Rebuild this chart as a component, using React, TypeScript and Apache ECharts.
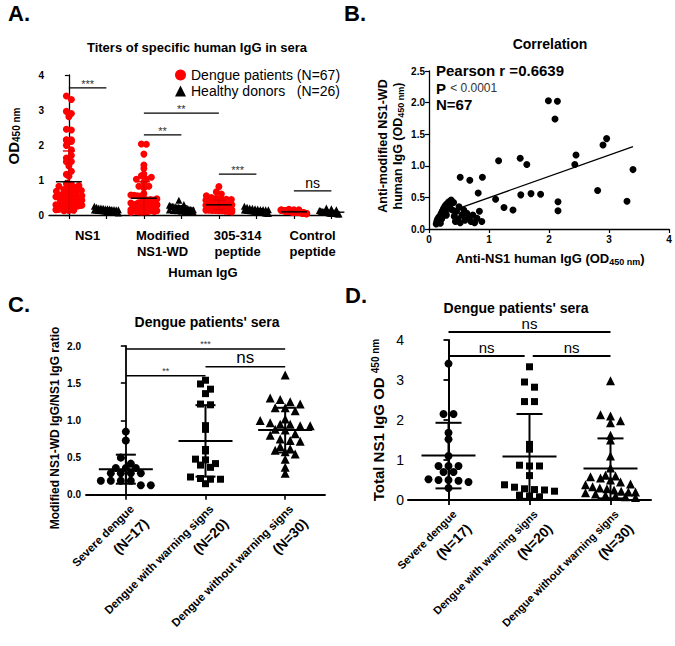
import React, { useEffect, useRef } from 'react';
import * as echarts from 'echarts';

const FONT = '"Liberation Sans", Arial, Helvetica, sans-serif';

// ---------- Panel A ----------
const A_CATEGORY_LABELS = ['NS1', 'Modified\nNS1-WD', '305-314\npeptide', 'Control\npeptide'];
const A_LABEL_POS = [0.5, 2.5, 4.5, 6.5];
const A_GROUP_POS = [0, 1, 2, 3, 4, 5, 6, 7];
const A_DENGUE_NAME = 'Dengue patients (N=67)';
const A_HEALTHY_NAME = 'Healthy donors   (N=26)';

// ---------- Panel B (paired patient values, also used in A) ----------
const B_NS1 = [
  1.99, 2.14, 2.10, 2.96, 2.90, 2.45, 2.43, 3.40, 1.52, 1.63, 1.16, 0.52, 0.68, 0.89, 0.82, 1.70, 1.86, 1.53, 1.11, 1.25, 1.40, 2.15, 2.15, 2.81, 3.30,
  0.12, 0.13, 0.14, 0.15, 0.16, 0.17, 0.18, 0.19, 0.20, 0.21, 0.22, 0.23, 0.24, 0.25, 0.26, 0.27, 0.28, 0.29, 0.30, 0.31, 0.33, 0.35, 0.37, 0.39, 0.41,
  0.42, 0.44, 0.46, 0.48, 0.50, 0.52, 0.55, 0.58, 0.60, 0.63, 0.66, 0.70, 0.73, 0.76, 0.80, 0.84, 0.88,
];
const B_WD = [
  2.03, 2.02, 1.74, 1.43, 1.33, 1.17, 1.02, 0.94, 1.12, 1.02, 1.08, 0.82, 0.77, 0.82, 0.57, 0.56, 0.55, 0.54, 0.47, 0.34, 0.30, 0.43, 0.29, 0.61, 0.44,
  0.08, 0.12, 0.15, 0.10, 0.18, 0.13, 0.20, 0.09, 0.24, 0.16, 0.28, 0.20, 0.32, 0.26, 0.35, 0.30, 0.38, 0.22, 0.40, 0.33, 0.43, 0.37, 0.46, 0.30, 0.42,
  0.20, 0.12, 0.28, 0.16, 0.35, 0.10, 0.22, 0.30, 0.14, 0.25, 0.18, 0.12, 0.22, 0.10, 0.17, 0.28, 0.12,
];
const B_FIT_SLOPE = 0.336;
const B_FIT_INTERCEPT = 0.16;

const A_PEPTIDE_DENGUE = [
  0.81, 0.66, 0.60, 0.55, 0.50, 0.48, 0.46, 0.45, 0.44, 0.42, 0.41, 0.40, 0.40, 0.39, 0.38, 0.37, 0.36, 0.36, 0.35, 0.35,
  0.34, 0.33, 0.33, 0.32, 0.31, 0.31, 0.30, 0.30, 0.29, 0.29, 0.28, 0.28, 0.27, 0.27, 0.26, 0.26, 0.25, 0.25, 0.24, 0.24,
  0.23, 0.23, 0.22, 0.22, 0.21, 0.21, 0.20, 0.20, 0.19, 0.19, 0.18, 0.18, 0.17, 0.17, 0.16, 0.16, 0.15, 0.15, 0.14, 0.14,
  0.13, 0.13, 0.12, 0.12, 0.11, 0.10, 0.09,
];
const A_CONTROL_DENGUE = [
  0.16, 0.15, 0.15, 0.14, 0.14, 0.14, 0.13, 0.13, 0.13, 0.13, 0.12, 0.12, 0.12, 0.12, 0.12, 0.11, 0.11, 0.11, 0.11, 0.11,
  0.11, 0.10, 0.10, 0.10, 0.10, 0.10, 0.10, 0.10, 0.10, 0.09, 0.09, 0.09, 0.09, 0.09, 0.09, 0.09, 0.09, 0.09, 0.08, 0.08,
  0.08, 0.08, 0.08, 0.08, 0.08, 0.08, 0.07, 0.07, 0.07, 0.07, 0.07, 0.07, 0.07, 0.06, 0.06, 0.06, 0.06, 0.06, 0.06, 0.05,
  0.05, 0.05, 0.05, 0.05, 0.04, 0.04, 0.04,
];
const A_HEALTHY_NS1 = [0.25, 0.22, 0.2, 0.2, 0.19, 0.18, 0.18, 0.17, 0.16, 0.16, 0.15, 0.15, 0.14, 0.14, 0.13, 0.13, 0.12, 0.12, 0.11, 0.1, 0.1, 0.09, 0.08, 0.08, 0.07, 0.06];
const A_HEALTHY_WD = [0.42, 0.3, 0.28, 0.26, 0.25, 0.24, 0.23, 0.22, 0.22, 0.21, 0.2, 0.2, 0.19, 0.18, 0.18, 0.17, 0.16, 0.15, 0.15, 0.14, 0.13, 0.12, 0.11, 0.1, 0.09, 0.08];
const A_HEALTHY_PEPTIDE = [0.25, 0.22, 0.2, 0.19, 0.18, 0.17, 0.16, 0.16, 0.15, 0.15, 0.14, 0.14, 0.13, 0.13, 0.12, 0.12, 0.11, 0.11, 0.1, 0.1, 0.09, 0.08, 0.07, 0.06, 0.05, 0.04];
const A_HEALTHY_CONTROL = [0.2, 0.18, 0.15, 0.13, 0.12, 0.1, 0.1, 0.09, 0.08, 0.08, 0.07, 0.07, 0.06, 0.06, 0.05, 0.05, 0.05, 0.04, 0.04, 0.04, 0.03, 0.03, 0.03, 0.02, 0.02, 0.01];
const A_MEAN = [0.95, 0.15, 0.48, 0.19, 0.29, 0.13, 0.09, 0.08];
const A_SD = [0.88, 0.05, 0.47, 0.07, 0.13, 0.05, 0.03, 0.05];
const A_SIG: [number, number, number, string][] = [
  [0, 1, 3.63, '***'],
  [2, 4, 2.91, '**'],
  [2, 3, 2.29, '**'],
  [4, 5, 1.17, '***'],
  [6, 7, 0.69, 'ns'],
];

// ---------- Panels C and D ----------
const GROUP_NAMES = ['Severe dengue', 'Dengue with warning signs', 'Dengue without warning signs'];
const GROUP_N = ['(N=17)', '(N=20)', '(N=30)'];
const GROUP_POS = [0, 1, 2];

const C_SEVERE = [0.85, 0.73, 0.50, 0.42, 0.36, 0.36, 0.36, 0.29, 0.29, 0.29, 0.29, 0.19, 0.19, 0.19, 0.19, 0.13, 0.13];
const C_WARNING = [1.54, 1.49, 1.42, 1.36, 1.22, 1.21, 0.93, 0.88, 0.61, 0.59, 0.48, 0.47, 0.42, 0.40, 0.37, 0.24, 0.22, 0.21, 0.21, 0.15];
const C_WITHOUT = [1.61, 1.30, 1.28, 1.25, 1.22, 1.17, 1.17, 1.13, 1.02, 1.00, 0.97, 0.95, 0.95, 0.93, 0.93, 0.88, 0.87, 0.82, 0.80, 0.75, 0.73, 0.72, 0.65, 0.62, 0.60, 0.58, 0.55, 0.48, 0.37, 0.29];
const C_MEAN = [0.345, 0.725, 0.87];
const C_SD = [0.195, 0.48, 0.30];
const C_SIG: [number, number, number, string][] = [
  [0, 2, 1.96, '***'],
  [1, 2, 1.72, 'ns'],
  [0, 1, 1.6, '**'],
];

const D_SEVERE = [3.41, 2.15, 2.15, 1.68, 1.52, 1.1, 0.85, 0.85, 0.85, 0.7, 0.7, 0.52, 0.5, 0.5, 0.48, 0.45, 0.3];
const D_WARNING = [3.33, 2.95, 2.82, 2.46, 2.46, 1.39, 1.27, 0.87, 0.85, 0.85, 0.61, 0.38, 0.32, 0.28, 0.26, 0.25, 0.22, 0.12, 0.10, 0.08];
const D_WITHOUT = [2.98, 2.13, 2.1, 1.98, 1.93, 1.62, 1.5, 1.1, 0.8, 0.62, 0.6, 0.58, 0.55, 0.5, 0.45, 0.4, 0.38, 0.33, 0.3, 0.28, 0.25, 0.22, 0.2, 0.2, 0.18, 0.15, 0.12, 0.1, 0.08, 0.06];
const D_MEAN = [1.11, 1.09, 0.79];
const D_SD = [0.82, 1.06, 0.75];
const D_SIG: [number, number, number, string][] = [
  [0, 2, 4.2, 'ns'],
  [0, 0.94, 3.6, 'ns'],
  [1.04, 2, 3.6, 'ns'],
];

// ---------- layout ----------
const GA = { left: 49, top: 75, width: 291, height: 140, xMin: -0.53, xMax: 7.23, yMax: 4 };
const GB = { left: 429, top: 71, width: 240, height: 158 };
const GC = { left: 86, top: 346, width: 239, height: 159, xMin: -0.5, xMax: 2.5, yMax: 2 };
const GD = { left: 408, top: 340, width: 243, height: 162, xMin: -0.5, xMax: 2.5, yMax: 4 };

// beeswarm-style horizontal spreading of points that share a row (GraphPad scatter dot plot)
function swarm(vals: number[], center: number, pxX: number, pxY: number, rowPx: number, stepPx: number, maxHalfPx: number) {
  const bins = new Map<number, number[]>();
  vals.forEach((v) => {
    const b = Math.floor((v * pxY) / rowPx);
    if (!bins.has(b)) bins.set(b, []);
    bins.get(b)!.push(v);
  });
  const out: number[][] = [];
  bins.forEach((list) => {
    const k = list.length;
    const step = k > 1 ? Math.min(stepPx, (2 * maxHalfPx) / (k - 1)) : 0;
    list.forEach((v, j) => out.push([center + ((j - (k - 1) / 2) * step) / pxX, v]));
  });
  return out;
}

function errorSeries(axis: number, pos: number[], mean: number[], sd: number[], meanHalf: number, capHalf: number, lw: number, sdColors: string[]) {
  return {
    type: 'custom',
    xAxisIndex: axis,
    yAxisIndex: axis,
    silent: true,
    z: 5,
    data: pos.map((p, i) => [p, mean[i], sd[i]]),
    renderItem: (params: any, api: any) => {
      const x = api.value(0);
      const m = api.value(1);
      const s = api.value(2);
      const c = api.coord([x, m]);
      const t = api.coord([x, m + s]);
      const b = api.coord([x, Math.max(0, m - s)]);
      const col = sdColors[params.dataIndex];
      const st = { stroke: col, lineWidth: lw };
      return {
        type: 'group',
        children: [
          { type: 'line', shape: { x1: c[0], y1: t[1], x2: c[0], y2: b[1] }, style: st },
          { type: 'line', shape: { x1: c[0] - capHalf, y1: t[1], x2: c[0] + capHalf, y2: t[1] }, style: st },
          { type: 'line', shape: { x1: c[0] - capHalf, y1: b[1], x2: c[0] + capHalf, y2: b[1] }, style: st },
          { type: 'line', shape: { x1: c[0] - meanHalf, y1: c[1], x2: c[0] + meanHalf, y2: c[1] }, style: { stroke: '#000', lineWidth: lw } },
        ],
      };
    },
  };
}

function sigSeries(axis: number, bars: [number, number, number, string][], o: { lw: number; starSize: number; nsSize: number; starGap: number; nsGap: number }) {
  return {
    type: 'custom',
    xAxisIndex: axis,
    yAxisIndex: axis,
    silent: true,
    clip: false,
    z: 5,
    data: bars.map((b) => [b[0], b[2], b[1]]),
    renderItem: (params: any, api: any) => {
      const p1 = api.coord([api.value(0), api.value(1)]);
      const p2 = api.coord([api.value(2), api.value(1)]);
      const label = bars[params.dataIndex][3];
      const star = label !== 'ns';
      return {
        type: 'group',
        children: [
          { type: 'line', shape: { x1: p1[0], y1: p1[1], x2: p2[0], y2: p1[1] }, style: { stroke: '#000', lineWidth: o.lw } },
          {
            type: 'text',
            x: (p1[0] + p2[0]) / 2,
            y: p1[1] - (star ? o.starGap : o.nsGap),
            style: {
              text: label,
              fontSize: star ? o.starSize : o.nsSize,
              fontFamily: FONT,
              fill: star ? '#333' : '#000',
              align: 'center',
              verticalAlign: star ? 'middle' : 'bottom',
            },
          },
        ],
      };
    },
  };
}

function txt(x: number, y: number, text: string, size: number, weight: string, extra: any = {}) {
  return {
    type: 'text',
    x,
    y,
    rotation: extra.rotation || 0,
    style: {
      text,
      fontSize: size,
      fontWeight: weight,
      fontFamily: FONT,
      fill: '#000',
      align: extra.align || 'center',
      verticalAlign: 'middle',
      rich: extra.rich,
    },
  };
}

function buildOption() {
  const aPxX = GA.width / (GA.xMax - GA.xMin);
  const aPxY = GA.height / GA.yMax;
  const cPxX = GC.width / (GC.xMax - GC.xMin);
  const cPxY = GC.height / GC.yMax;
  const dPxX = GD.width / (GD.xMax - GD.xMin);
  const dPxY = GD.height / GD.yMax;

  const aGroups = [B_NS1, A_HEALTHY_NS1, B_WD, A_HEALTHY_WD, A_PEPTIDE_DENGUE, A_HEALTHY_PEPTIDE, A_CONTROL_DENGUE, A_HEALTHY_CONTROL];
  const axisLine = (w: number) => ({ show: true, lineStyle: { color: '#000', width: w } });
  const tick = (w: number, len: number) => ({ show: true, length: len, lineStyle: { color: '#000', width: w } });
  const lab = (size: number, weight: string, extra: any = {}) => ({ fontSize: size, fontWeight: weight, fontFamily: FONT, color: '#000', ...extra });

  const series: any[] = [];
  aGroups.forEach((g, i) => {
    const dengue = i % 2 === 0;
    series.push({
      type: 'scatter',
      name: dengue ? A_DENGUE_NAME : A_HEALTHY_NAME,
      xAxisIndex: 0,
      yAxisIndex: 0,
      symbol: dengue ? 'circle' : 'triangle',
      symbolSize: 7,
      itemStyle: { color: dengue ? '#ff0000' : '#000', opacity: 1 },
      data: swarm(g, A_GROUP_POS[i], aPxX, aPxY, 5, 5, dengue ? 13 : 12),
      z: 2,
    });
  });
  series.push(errorSeries(0, A_GROUP_POS, A_MEAN, A_SD, 13, 6, 1.4, A_GROUP_POS.map((i) => (i % 2 === 0 ? '#e00000' : '#000'))));
  series.push(sigSeries(0, A_SIG, { lw: 1.2, starSize: 11, nsSize: 14, starGap: 4, nsGap: 1 }));

  // B
  series.push({
    type: 'scatter',
    xAxisIndex: 1,
    yAxisIndex: 1,
    symbol: 'circle',
    symbolSize: 7,
    itemStyle: { color: '#000', opacity: 1 },
    data: B_NS1.map((x, i) => [x, B_WD[i]]),
  });
  const bMin = Math.min(...B_NS1);
  const bMax = Math.max(...B_NS1);
  series.push({
    type: 'line',
    xAxisIndex: 1,
    yAxisIndex: 1,
    symbol: 'none',
    lineStyle: { color: '#000', width: 1.3 },
    data: [
      [bMin, B_FIT_INTERCEPT + B_FIT_SLOPE * bMin],
      [bMax, B_FIT_INTERCEPT + B_FIT_SLOPE * bMax],
    ],
    z: 3,
  });

  // C
  const shapes = ['circle', 'rect', 'triangle'];
  const sizes = [8, 7, 9];
  [C_SEVERE, C_WARNING, C_WITHOUT].forEach((g, i) => {
    series.push({
      type: 'scatter',
      xAxisIndex: 2,
      yAxisIndex: 2,
      symbol: shapes[i],
      symbolSize: sizes[i],
      itemStyle: { color: '#000', opacity: 1 },
      data: swarm(g, GROUP_POS[i], cPxX, cPxY, 8, 10, 25),
    });
  });
  series.push(errorSeries(2, GROUP_POS, C_MEAN, C_SD, 27, 10, 2, ['#000', '#000', '#000']));
  series.push(sigSeries(2, C_SIG, { lw: 1.5, starSize: 9, nsSize: 17, starGap: 5, nsGap: 1 }));

  // D
  [D_SEVERE, D_WARNING, D_WITHOUT].forEach((g, i) => {
    series.push({
      type: 'scatter',
      xAxisIndex: 3,
      yAxisIndex: 3,
      symbol: shapes[i],
      symbolSize: sizes[i],
      itemStyle: { color: '#000', opacity: 1 },
      data: swarm(g, GROUP_POS[i], dPxX, dPxY, 8, 10, 25),
    });
  });
  series.push(errorSeries(3, GROUP_POS, D_MEAN, D_SD, 27, 13, 2, ['#000', '#000', '#000']));
  series.push(sigSeries(3, D_SIG, { lw: 1.8, starSize: 10, nsSize: 15, starGap: 5, nsGap: 1 }));

  const groupLabel = (a: number, b: number) => ({
    customValues: GROUP_POS,
    rotate: 45,
    margin: 6,
    verticalAlign: 'top',
    color: '#000',
    formatter: (v: number) => `{a|${GROUP_NAMES[Math.round(v)]}}\n{b|${GROUP_N[Math.round(v)]}}`,
    rich: {
      a: { fontSize: a, fontWeight: 'bold', fontFamily: FONT, color: '#000', lineHeight: 17 },
      b: { fontSize: b, fontWeight: 'bold', fontFamily: FONT, color: '#000', lineHeight: 23 },
    },
  });

  const subRich = (main: number, sub: number, down: boolean) => ({
    m: { fontSize: main, fontWeight: 'bold', fontFamily: FONT, fill: '#000', color: '#000' },
    s: { fontSize: sub, fontWeight: 'bold', fontFamily: FONT, fill: '#000', color: '#000', padding: down ? [7, 0, 0, 0] : [0, 0, 5, 0] },
  });

  return {
    animation: false,
    backgroundColor: '#fff',
    textStyle: { fontFamily: FONT },
    grid: [
      { left: GA.left, top: GA.top, width: GA.width, height: GA.height },
      { left: GB.left, top: GB.top, width: GB.width, height: GB.height },
      { left: GC.left, top: GC.top, width: GC.width, height: GC.height },
      { left: GD.left, top: GD.top, width: GD.width, height: GD.height },
    ],
    legend: {
      data: [
        { name: A_DENGUE_NAME, icon: 'circle' },
        { name: A_HEALTHY_NAME, icon: 'triangle' },
      ],
      orient: 'vertical',
      left: 170,
      top: 63,
      itemWidth: 11,
      itemHeight: 11,
      itemGap: 2,
      selectedMode: false,
      textStyle: { fontSize: 14, fontFamily: FONT, color: '#000' },
    },
    xAxis: [
      {
        type: 'value', gridIndex: 0, min: GA.xMin, max: GA.xMax,
        axisLine: axisLine(1.3),
        axisTick: { ...tick(1.2, 4), customValues: A_GROUP_POS },
        axisLabel: {
          ...lab(13, 'bold', { lineHeight: 16 }),
          margin: 12,
          customValues: A_LABEL_POS,
          formatter: (v: number) => A_CATEGORY_LABELS[A_LABEL_POS.indexOf(v)] ?? '',
        },
        splitLine: { show: false },
      },
      {
        type: 'value', gridIndex: 1, min: 0, max: 4, interval: 1,
        axisLine: axisLine(1.3), axisTick: tick(1.2, 4),
        axisLabel: { ...lab(10, 'bold'), margin: 5 },
        splitLine: { show: false },
      },
      {
        type: 'value', gridIndex: 2, min: GC.xMin, max: GC.xMax,
        axisLine: axisLine(1.8),
        axisTick: { ...tick(1.6, 5), customValues: GROUP_POS },
        axisLabel: groupLabel(11.5, 14),
        splitLine: { show: false },
      },
      {
        type: 'value', gridIndex: 3, min: GD.xMin, max: GD.xMax,
        axisLine: axisLine(2),
        axisTick: { ...tick(1.8, 5), customValues: GROUP_POS },
        axisLabel: groupLabel(11, 14),
        splitLine: { show: false },
      },
    ],
    yAxis: [
      {
        type: 'value', gridIndex: 0, min: 0, max: GA.yMax, interval: 1,
        axisLine: axisLine(1.3), axisTick: tick(1.2, 4),
        axisLabel: { ...lab(10, 'bold'), margin: 5 },
        splitLine: { show: false },
      },
      {
        type: 'value', gridIndex: 1, min: 0, max: 2.5, interval: 0.5,
        axisLine: axisLine(1.3), axisTick: tick(1.2, 4),
        axisLabel: { ...lab(10, 'bold'), margin: 4, formatter: (v: number) => v.toFixed(1) },
        splitLine: { show: false },
      },
      {
        type: 'value', gridIndex: 2, min: 0, max: GC.yMax, interval: 0.5,
        axisLine: axisLine(1.8), axisTick: tick(1.6, 5),
        axisLabel: { ...lab(10, 'bold'), margin: 5, formatter: (v: number) => v.toFixed(1) },
        splitLine: { show: false },
      },
      {
        type: 'value', gridIndex: 3, min: 0, max: GD.yMax, interval: 1,
        axisLine: axisLine(2), axisTick: tick(1.8, 5),
        axisLabel: { ...lab(14, 'normal'), margin: 4 },
        splitLine: { show: false },
      },
    ],
    graphic: [
      txt(8, 13, 'A.', 22, 'bold', { align: 'left' }),
      txt(197, 47, 'Titers of specific human IgG in sera', 13, 'bold'),
      txt(13, 136, '{m|OD}{s|450 nm}', 15, 'bold', { rotation: Math.PI / 2, rich: subRich(15, 10, true) }),
      txt(203, 272, 'Human IgG', 13, 'bold'),

      txt(344, 13, 'B.', 22, 'bold', { align: 'left' }),
      txt(550, 44, 'Correlation', 14, 'bold'),
      txt(436, 70, 'Pearson r =0.6639', 15, 'bold', { align: 'left' }),
      txt(436, 88, '{p|P} {q|< 0.0001}', 15, 'bold', {
        align: 'left',
        rich: {
          p: { fontSize: 15, fontWeight: 'bold', fontFamily: FONT, fill: '#000' },
          q: { fontSize: 12, fontWeight: 'normal', fontFamily: FONT, fill: '#333' },
        },
      }),
      txt(436, 104, 'N=67', 15, 'bold', { align: 'left' }),
      txt(391, 146, '{m|Anti-modified NS1-WD}\n{m|human IgG (OD}{s|450 nm}{m|)}', 12.5, 'bold', { rotation: Math.PI / 2, rich: subRich(12.5, 9, true) }),
      txt(550, 258, '{m|Anti-NS1 human IgG (OD}{s|450 nm}{m|)}', 13, 'bold', { rich: subRich(13, 9, true) }),

      txt(8, 304, 'C.', 22, 'bold', { align: 'left' }),
      txt(207, 322, "Dengue patients' sera", 14, 'bold'),
      txt(55, 428, 'Modified NS1-WD IgG/NS1 IgG ratio', 12, 'bold', { rotation: Math.PI / 2 }),

      txt(345, 295, 'D.', 22, 'bold', { align: 'left' }),
      txt(516, 308, "Dengue patients' sera", 14, 'bold'),
      txt(378, 420, '{m|Total NS1 IgG OD }{s|450 nm}', 15, 'bold', { rotation: Math.PI / 2, rich: subRich(15, 10, false) }),
    ],
    series,
  };
}

export default function App() {
  const ref = useRef<HTMLDivElement>(null);
  useEffect(() => {
    if (!ref.current) return;
    const chart = echarts.init(ref.current, undefined, { renderer: 'svg' });
    chart.setOption(buildOption() as any);
    return () => chart.dispose();
  }, []);
  return <div ref={ref} style={{ position: 'absolute', left: 0, top: 0, width: 675, height: 646, background: '#fff' }} />;
}
